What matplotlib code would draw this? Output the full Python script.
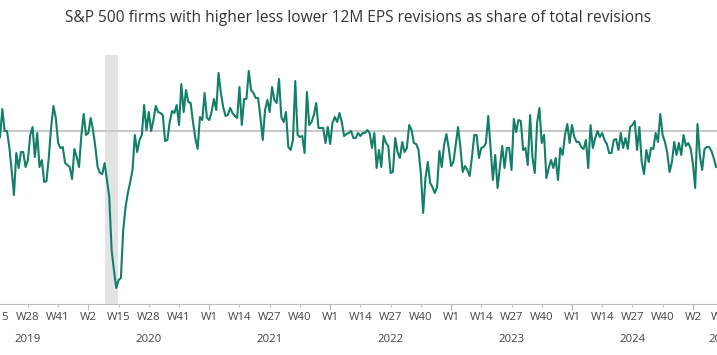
#!/usr/bin/env python3
# plot.py - S&P 500 net EPS revisions, weekly
import matplotlib
matplotlib.use("Agg")
import matplotlib.pyplot as plt
from matplotlib.transforms import blended_transform_factory

plt.rcParams['font.family'] = ['Open Sans', 'DejaVu Sans']

TITLE = "S&P 500 firms with higher less lower 12M EPS revisions as share of total revisions"

# weekly net revisions (%), first visible week = 2019 W16
net_revisions = [
    -2.4, 8.8, 0.0, 0.0, -6.4, -15.6, -25.6, -8.8, -14.8, -8.4,
    -8.4, -14.4, -11.6, -1.6, 1.6, -10.4, -0.8, -14.4, -11.6, -20.4,
    -20.0, -10.4, 1.6, 10.0, 5.2, -4.8, -6.8, -6.4, -12.8, -13.6,
    -14.4, -19.2, -7.2, -10.4, -14.4, -1.6, 6.8, -1.6, -0.8, 5.2,
    0.4, -6.4, -14.4, -16.8, -17.2, -12.8, -19.6, -26.4, -47.6, -55.6,
    -62.8, -59.6, -58.8,
    -39.6, -30.4, -24.8, -20.4, -15.6, -1.6, -8.4, -3.6, -1.6, 10.4,
    0.4, 7.6, 0.0, 4.4, 10.0, 7.6, 7.2, 6.4, -4.0, -3.6,
    3.6, 8.0, 7.2, 10.4, 2.4, 18.8, 7.6, 16.4, 11.6, 11.2,
    3.6, -2.8, -7.2, 5.6, 4.4, 15.2, 5.2, 4.4, 7.6, 12.8,
    8.4, 23.2, 15.2, 9.6, 6.0, 6.4, 9.2, 7.2, 6.0, 5.2,
    17.6, 2.4,
    12.8, 12.8, 24.0, 16.4, 15.2, 13.2, 13.2, 5.6, -3.6, 8.4,
    12.4, 7.6, 17.6, 12.4, 11.2, 20.8, 5.6, 3.6, 7.6, -6.4,
    -7.6, -3.6, 20.0, -1.6, -2.4, -2.0, -8.8, 15.6, 2.4, 3.6,
    6.4, 11.2, 1.2, 1.2, 1.2, -4.8, 1.6, -5.2, 3.2, 5.6,
    3.6, 7.2, 3.6, -2.0, -1.2, -0.8, 0.0, -2.8, -2.8, -0.8,
    -2.0,
    -0.8, -0.8, 0.4, -0.8, -6.8, -0.8, -14.8, -7.6, -14.4, -2.0,
    -4.8, -6.0, -16.8, -16.4, -2.8, -8.4, -10.8, -4.4, -8.4, -6.8,
    2.4, 0.4, -4.8, -5.2, -7.6, -16.8, -32.8, -18.8, -12.4, -20.8,
    -22.4, -24.8, -22.4, -8.0, -14.4, -5.6, -1.2, -6.8, -14.0, -12.4,
    -5.6, 1.6, -6.4, -16.4, -14.0, -15.6, -18.0, -10.4, -1.6, -1.6,
    -10.8, -6.8,
    -6.4, -4.8, 6.0, -6.8, -19.6, -9.6, -22.8, -14.4, -6.0, -14.8,
    -6.8, -6.8, -15.6, 4.8, -0.4, 4.4, 4.0, -7.6, -6.8, -13.6,
    6.4, -10.4, -16.8, 3.2, 9.2, -4.8, -1.6, -18.8, -14.8, -11.6,
    -14.8, -10.8, -19.6, -6.8, -9.6, -1.6, 2.8, -4.8, 2.4, -2.4,
    -4.4, -4.4, -6.4, -7.2, -3.6, -14.8, 2.4, -6.8, -2.8, 0.0,
    -2.4,
    -0.8, -3.6, -5.2, -8.8, -8.8, -3.6, -3.2, -7.6, -0.8, -6.8,
    -2.8, -7.2, 1.6, 2.4, 4.0, -7.6, 1.6, -12.4, -17.2, -7.6,
    -12.4, -6.8, -7.2, -0.8, -4.4, 6.8, -1.6, -4.4, -8.8, -16.4,
    -12.4, -4.4, -9.6, -4.8, -9.6, -1.6, -6.0, -4.8, -6.8, -12.8,
    -22.8, 2.8, -9.6, -15.6, -7.2, -6.4, -6.4, -8.0, -10.8, -14.4,
]

week_labels = ["W15", "W28", "W41", "W2", "W15", "W28", "W41", "W1", "W14", "W27",
               "W40", "W1", "W14", "W27", "W40", "W1", "W14", "W27", "W40", "W1",
               "W14", "W27", "W40", "W2", "W15"]
years = ["2019", "2020", "2021", "2022", "2023", "2024", "2025"]
# week index where each year group starts / ends (relative to first visible week)
year_bounds = [-14, 38, 90, 142, 194, 246, 298, 323]
# recession shading (week index)
shade_start, shade_end = 45.2, 50.8

LINE = '#137f68'
GRID = '#c9c9c9'
TXT = '#444444'

W, H = 717, 355
fig = plt.figure(figsize=(W / 100, H / 100), dpi=100)

# axes reach past the figure edges on purpose, the reference is a crop
px_per_week = 2.325
x0, x1 = -20, 330
left = x0 * px_per_week / W
width = (x1 - x0) * px_per_week / W
bottom = (H - 304) / H
top = (H - 55) / H
ax = fig.add_axes([left, bottom, width, top - bottom])

weeks = list(range(len(net_revisions)))
ax.axvspan(shade_start, shade_end, color='#e3e3e3', lw=0, zorder=0)
ax.axhline(0, color=GRID, lw=1.5, zorder=1)
ax.plot(weeks, net_revisions, color=LINE, lw=1.5, zorder=3)

ax.set_xlim(x0, x1)
ax.set_ylim(-69.2, 30.4)

ticks = [-1 + 13 * k for k in range(len(week_labels))]
ax.set_xticks(ticks, week_labels)
ax.set_xticks(year_bounds[1:-1], minor=True)
ax.xaxis.remove_overlapping_locs = False
ax.tick_params(axis='x', which='major', length=2, width=0.8, color='#bfbfbf',
               labelsize=8.2, labelcolor=TXT, pad=4)
ax.tick_params(axis='x', which='minor', length=4.5, width=0.8, color='#bfbfbf')
ax.set_yticks([])
for s in ['left', 'right', 'top']:
    ax.spines[s].set_visible(False)
ax.spines['bottom'].set_color('#bfbfbf')
ax.spines['bottom'].set_linewidth(0.8)

trans = blended_transform_factory(ax.transData, fig.transFigure)
for i, yr in enumerate(years):
    mid = (year_bounds[i] + year_bounds[i + 1]) / 2
    ax.text(mid, 1 - 340 / H, yr, transform=trans, ha='center', va='center',
            fontsize=8.2, color=TXT, clip_on=False)

fig.text(0.5, 1 - 18 / H, TITLE, ha='center', va='center', fontsize=11.2, color='#333333')

fig.savefig('out.png', dpi=100)
